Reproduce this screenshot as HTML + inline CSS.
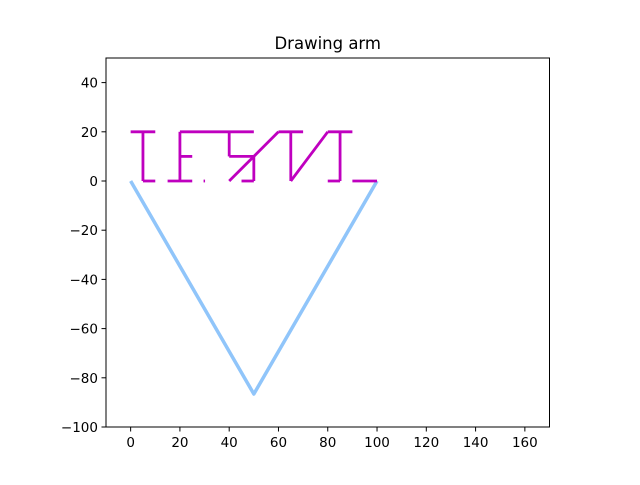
<!DOCTYPE html>
<html><head><meta charset="utf-8"><style>
body{margin:0;background:#fff;}
svg text{font-family:"DejaVu Sans","Liberation Sans",sans-serif;}
</style></head><body>
<svg id="c" width="640" height="480" xmlns="http://www.w3.org/2000/svg"></svg>
<script>
const xTicks=[0,20,40,60,80,100,120,140,160];
const yTicks=[40,20,0,-20,-40,-60,-80,-100];
const armX=[0,50,100];
const armY=[0,-86.6,0];
const penSegments=[
 [[0,20],[10,20]],[[5,20],[5,0]],[[5,0],[10,0]],
 [[20,20],[20,0]],[[20,20],[50,20]],[[20,10],[25,10]],[[15,0],[25,0]],
 [[29.6,0],[30.2,0]],
 [[40,20],[40,10]],[[40,10],[50,10]],[[50,10],[50,0]],[[45,0],[50,0]],
 [[40,0],[60,20]],[[60,20],[70,20]],[[65,20],[65,0]],[[65,0],[80,20]],
 [[80,20],[90,20]],[[85,20],[85,0]],[[80,0],[85,0]],[[90,0],[100,0]]
];
const L=106,R=549.5,T=58,B=427,xmin=-10,xmax=170,ymin=-100,ymax=50;
const sx=v=>L+(v-xmin)/(xmax-xmin)*(R-L);
const sy=v=>B-(v-ymin)/(ymax-ymin)*(B-T);
const svg=document.getElementById('c');
const NS='http://www.w3.org/2000/svg';
function mk(t,a){const e=document.createElementNS(NS,t);for(const k in a)e.setAttribute(k,a[k]);svg.appendChild(e);return e;}
const clip=mk('clipPath',{id:'cp'});
const cr=document.createElementNS(NS,'rect');cr.setAttribute('x',L);cr.setAttribute('y',T);cr.setAttribute('width',R-L);cr.setAttribute('height',B-T);clip.appendChild(cr);
const arm=mk('polyline',{points:armX.map((x,i)=>sx(x)+','+sy(armY[i])).join(' '),fill:'none',stroke:'#90c5fa','stroke-width':3.5,'stroke-linejoin':'round','clip-path':'url(#cp)'});


penSegments.forEach((s,i)=>{
 const l=mk('line',{x1:sx(s[0][0]),y1:sy(s[0][1]),x2:sx(s[1][0]),y2:sy(s[1][1]),stroke:'#bf00bf','stroke-width':2.8,'stroke-linecap':'butt'});
 
 
});
const frame=mk('rect',{x:L,y:T,width:R-L,height:B-T,fill:'none',stroke:'#000','stroke-width':1});


xTicks.forEach(v=>{
 const t=mk('line',{x1:sx(v),x2:sx(v),y1:B,y2:B+4.5,stroke:'#000'});
 
 
 const tx=mk('text',{x:sx(v),y:B+20,'font-size':13.5,'text-anchor':'middle'});
 tx.textContent=v;
 
 
});
yTicks.forEach(v=>{
 const t=mk('line',{x1:L-4.5,x2:L,y1:sy(v),y2:sy(v),stroke:'#000'});
 
 
 const tx=mk('text',{x:L-8,y:sy(v)+5,'font-size':13.5,'text-anchor':'end'});
 tx.textContent=v<0?'\u2212'+(-v):v;
 
 
});
const ti=mk('text',{x:(L+R)/2,y:49,'font-size':16.5,'text-anchor':'middle'});
ti.textContent='Drawing arm';


</script>
</body></html>
